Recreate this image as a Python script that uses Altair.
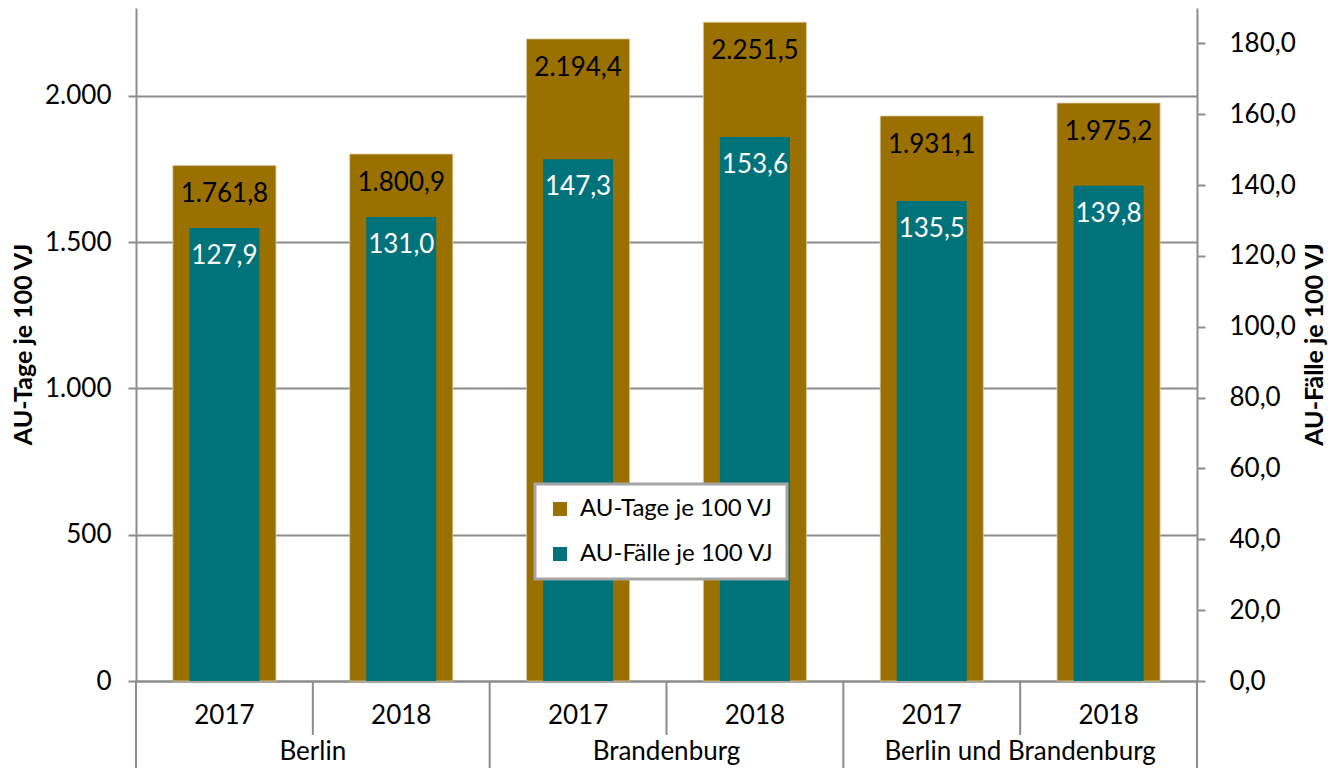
import altair as alt
import pandas as pd

# ---- data ----
regions = ["Berlin", "Berlin", "Brandenburg", "Brandenburg",
           "Berlin und Brandenburg", "Berlin und Brandenburg"]
years = ["2017", "2018", "2017", "2018", "2017", "2018"]
au_tage = [1761.8, 1800.9, 2194.4, 2251.5, 1931.1, 1975.2]
au_faelle = [127.9, 131.0, 147.3, 153.6, 135.5, 139.8]
series_names = ["AU-Tage je 100 VJ", "AU-Fälle je 100 VJ"]
region_names = ["Berlin", "Brandenburg", "Berlin und Brandenburg"]
left_ticks = [0, 500, 1000, 1500, 2000]
right_ticks = [0, 20, 40, 60, 80, 100, 120, 140, 160, 180]

GOLD = "#9A7100"
TEAL = "#00727A"
GRID = "#8C8C8C"
FONT = "Lato"
FS = 26

keys = [f"{r}|{y}" for r, y in zip(regions, years)]
df = pd.DataFrame({"key": keys, "region": regions, "year": years,
                   "tage": au_tage, "faelle": au_faelle})
df_t = df.assign(series=series_names[0])
df_f = df.assign(series=series_names[1])

x_scale = alt.Scale(domain=keys, paddingInner=0, paddingOuter=0)
color_scale = alt.Scale(domain=series_names, range=[GOLD, TEAL])
legend = alt.Legend(
    title=None, orient="none", legendX=399, legendY=476,
    fillColor="white", strokeColor="#A5A5A5", padding=13,
    symbolType="square", symbolSize=196, symbolStrokeWidth=0,
    labelFontSize=24, labelFont=FONT, labelColor="black", labelOffset=8,
    labelLimit=400, rowPadding=21,
)

y_left = alt.Scale(domain=[0, 2300], nice=False, zero=True)
y_right = alt.Scale(domain=[0, 190], nice=False, zero=True)

x_axis = alt.Axis(
    title=None, labelExpr="split(datum.label, '|')[1]", ticks=False,
    labelAngle=0, labelPadding=21, labelFontSize=FS, labelFont=FONT,
    labelColor="black", domainColor=GRID, domainWidth=2)

left_axis = alt.Axis(
    orient="left", values=left_ticks, grid=True, gridColor=GRID, gridWidth=2,
    tickColor=GRID, tickSize=8, tickWidth=2, domainColor=GRID, domainWidth=2,
    labelExpr="replace(format(datum.value, ',.0f'), ',', '.')",
    labelFontSize=FS, labelFont=FONT, labelColor="black", labelPadding=17,
    title="AU-Tage je 100 VJ", titleFontSize=25, titleFont=FONT,
    titleFontWeight="bold", titleColor="black", titleAngle=270,
    titleX=-113, titleY=336, titleBaseline="middle", titleAlign="center")

right_axis = alt.Axis(
    orient="right", values=right_ticks, grid=False,
    tickColor=GRID, tickSize=8, tickWidth=2, domainColor=GRID, domainWidth=2,
    labelExpr="replace(format(datum.value, '.1f'), '.', ',')",
    labelFontSize=FS, labelFont=FONT, labelColor="black", labelPadding=24,
    title="AU-Fälle je 100 VJ", titleFontSize=25, titleFont=FONT,
    titleFontWeight="bold", titleColor="black", titleAngle=270,
    titleX=117, titleY=336, titleBaseline="middle", titleAlign="center")

x_main = alt.X("key:N", scale=x_scale, axis=x_axis)

gold_bar = alt.Chart(df_t).mark_bar(width={"band": 0.583}, stroke="#D9CBA3", strokeWidth=0.8).encode(
    x=x_main,
    y=alt.Y("tage:Q", scale=y_left, axis=left_axis),
    color=alt.Color("series:N", scale=color_scale, legend=legend),
)
gold_text = alt.Chart(df_t).transform_calculate(
    lbl="replace(replace(replace(format(datum.tage, ',.1f'), ',', '_'), '.', ','), '_', '.')"
).mark_text(baseline="middle", dy=29, fontSize=FS, font=FONT, color="black").encode(
    x=x_main,
    y=alt.Y("tage:Q", scale=y_left, axis=left_axis),
    text="lbl:N",
)

teal_bar = alt.Chart(df_f).mark_bar(width={"band": 0.396}).encode(
    x=x_main,
    y=alt.Y("faelle:Q", scale=y_right, axis=right_axis),
    color=alt.Color("series:N", scale=color_scale, legend=legend),
)
teal_text = alt.Chart(df_f).transform_calculate(
    lbl="replace(format(datum.faelle, '.1f'), '.', ',')"
).mark_text(baseline="middle", dy=28, fontSize=FS, font=FONT, color="white").encode(
    x=x_main,
    y=alt.Y("faelle:Q", scale=y_right, axis=right_axis),
    text="lbl:N",
)

# separators of the two-level category axis
year_sep = pd.DataFrame({"key": [k for k, y in zip(keys, years) if y == "2018"]})
region_sep = pd.DataFrame({"key": [k for k, y in zip(keys, years) if y == "2017"]})
right_edge = pd.DataFrame({"key": [keys[-1]]})

rule_year = alt.Chart(year_sep).mark_rule(color=GRID, strokeWidth=2).encode(
    x=alt.X("key:N", scale=x_scale, axis=x_axis, bandPosition=0),
    y=alt.value(673), y2=alt.value(727))
rule_region = alt.Chart(region_sep).mark_rule(color=GRID, strokeWidth=2).encode(
    x=alt.X("key:N", scale=x_scale, axis=x_axis, bandPosition=0),
    y=alt.value(673), y2=alt.value(800))
rule_right = alt.Chart(right_edge).mark_rule(color=GRID, strokeWidth=2).encode(
    x=alt.X("key:N", scale=x_scale, axis=x_axis, bandPosition=1),
    y=alt.value(673), y2=alt.value(800))

region_df = pd.DataFrame({"key": year_sep["key"], "region": region_names})
region_text = alt.Chart(region_df).mark_text(
    baseline="middle", fontSize=FS, font=FONT, color="black").encode(
    x=alt.X("key:N", scale=x_scale, axis=x_axis, bandPosition=0),
    y=alt.value(744),
    text="region:N",
)

tage_layer = alt.layer(gold_bar, gold_text)
faelle_layer = alt.layer(teal_bar, teal_text)
deco = alt.layer(rule_year, rule_region, rule_right, region_text)

chart = alt.layer(tage_layer, faelle_layer, deco).resolve_scale(
    y="independent"
).properties(
    width=1061, height=673,
    padding={"left": 128, "top": 0, "right": 131, "bottom": 87},
    autosize=alt.AutoSizeParams(type="none"),
    background="white",
).configure(font=FONT).configure_view(strokeWidth=0).configure_legend(
    strokeWidth=3, cornerRadius=0
)

chart.save("out.html", embed_options={"renderer": "svg", "actions": False})
